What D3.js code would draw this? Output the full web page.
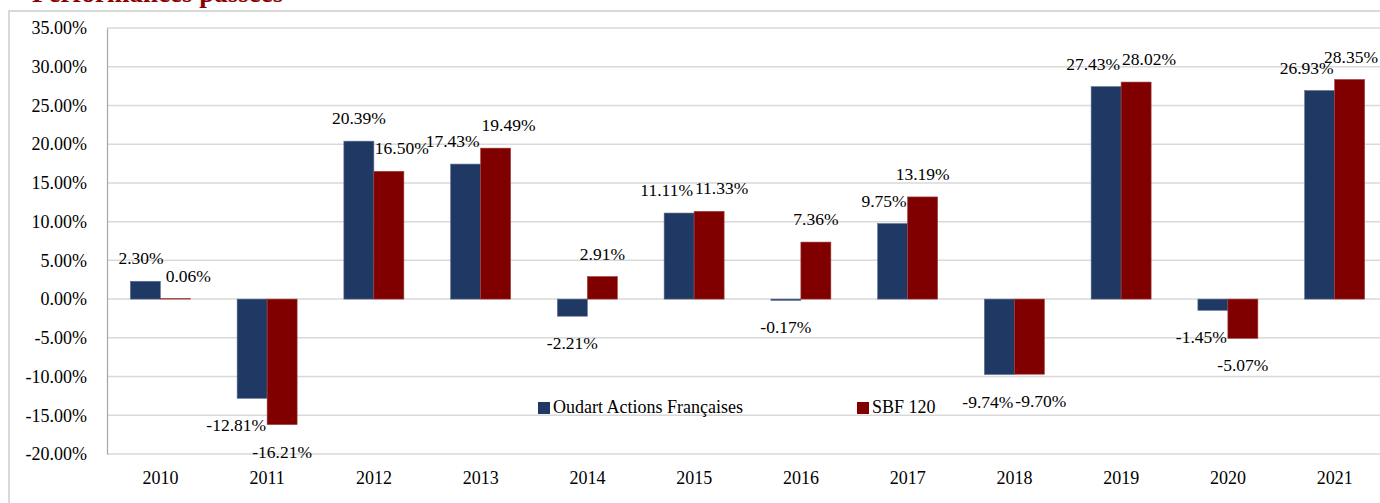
<!DOCTYPE html>
<html>
<head>
<meta charset="utf-8">
<script src="https://cdn.jsdelivr.net/npm/d3@7"></script>
<style>
  body { margin: 0; background: #fff; }
  svg { display: block; font-family: "Liberation Serif", "Times New Roman", serif; }
</style>
</head>
<body>
<div id="chart"></div>
<script>
// data
const years = ["2010", "2011", "2012", "2013", "2014", "2015", "2016", "2017", "2018", "2019", "2020", "2021"];
const oudart = [2.30, -12.81, 20.39, 17.43, -2.21, 11.11, -0.17, 9.75, -9.74, 27.43, -1.45, 26.93];
const sbf120 = [0.06, -16.21, 16.50, 19.49, 2.91, 11.33, 7.36, 13.19, -9.70, 28.02, -5.07, 28.35];
const seriesNames = ["Oudart Actions Françaises", "SBF 120"];
const yTicks = [35, 30, 25, 20, 15, 10, 5, 0, -5, -10, -15, -20];

const colors = ["#203864", "#800000"];
const W = 1380, H = 503;

const svg = d3.select("#chart").append("svg")
    .attr("width", W)
    .attr("height", H);

// title (cut off at the top of the picture)
svg.append("text")
    .attr("x", 32)
    .attr("y", 1.5)
    .attr("fill", "#8b0000")
    .attr("font-weight", "bold")
    .attr("font-size", 27)
    .text("Performances passées");

// outer frame
svg.append("path")
    .attr("d", "M9,503 V11 H1380")
    .attr("fill", "none")
    .attr("stroke", "#d9d9d9")
    .attr("stroke-width", 2);

const x0 = d3.scaleBand()
    .domain(years)
    .range([107, 1388])
    .paddingInner(0.438)
    .paddingOuter(0.219);

const x1 = d3.scaleBand()
    .domain([0, 1])
    .range([0, x0.bandwidth()]);

const y = d3.scaleLinear()
    .domain([-20, 35])
    .range([454, 28]);

// gridlines
svg.append("g")
    .selectAll("line")
    .data(yTicks)
    .join("line")
    .attr("x1", 107)
    .attr("x2", W)
    .attr("y1", d => y(d))
    .attr("y2", d => y(d))
    .attr("stroke", "#d9d9d9")
    .attr("stroke-width", 1.5);

// y axis
const yAxis = d3.axisLeft(y)
    .tickValues(yTicks)
    .tickSize(0)
    .tickPadding(20)
    .tickFormat(d => d.toFixed(2) + "%");

svg.append("g")
    .attr("transform", "translate(107,0)")
    .call(yAxis)
    .call(g => g.select(".domain").attr("stroke", "#a6a6a6").attr("stroke-width", 1.2))
    .call(g => g.selectAll("text")
        .attr("font-family", "Liberation Serif, serif")
        .attr("font-size", 18)
        .attr("fill", "#000"));

// x axis labels
const xAxis = d3.axisBottom(x0).tickSize(0).tickPadding(0);
svg.append("g")
    .attr("transform", "translate(0,471)")
    .call(xAxis)
    .call(g => g.select(".domain").remove())
    .call(g => g.selectAll("text")
        .attr("font-family", "Liberation Serif, serif")
        .attr("font-size", 18)
        .attr("fill", "#000"));

const rows = years.map((yr, i) => ({ year: yr, vals: [oudart[i], sbf120[i]] }));

const groups = svg.append("g")
    .selectAll("g")
    .data(rows)
    .join("g")
    .attr("transform", d => "translate(" + x0(d.year) + ",0)");

groups.selectAll("rect")
    .data(d => d.vals.map((v, k) => ({ v, k })))
    .join("rect")
    .attr("x", d => x1(d.k))
    .attr("width", x1.bandwidth())
    .attr("y", d => y(Math.max(0, d.v)))
    .attr("height", d => Math.abs(y(d.v) - y(0)))
    .attr("fill", d => colors[d.k])
    .attr("stroke", d => d.k === 0 ? "#5b6f95" : "#a04040")
    .attr("stroke-width", 0.6);

// data labels, nudged sideways like Excel does when they collide
groups.each(function (row) {
    const gx = x0(row.year);
    const labels = d3.select(this).selectAll("text.lbl")
        .data(row.vals.map((v, k) => ({ v, k })))
        .join("text")
        .attr("class", "lbl")
        .attr("x", d => x1(d.k) + x1.bandwidth() / 2)
        .attr("y", d => d.v >= 0 ? y(d.v) - 17 : y(d.v) + 33)
        .attr("text-anchor", "middle")
        .attr("font-size", 17.5)
        .attr("fill", "#000")
        .text(d => d.v.toFixed(2) + "%");

    const nodes = labels.nodes();
    const cx = [0, 1].map(k => x1(k) + x1.bandwidth() / 2);
    const bb = nodes.map(n => n.getBBox());

    // keep each label clear of the neighbouring bar
    [0, 1].forEach(k => {
        const o = 1 - k, v = row.vals[o];
        const top = y(Math.max(0, v)), bottom = y(Math.min(0, v));
        const b = bb[k];
        const vOver = Math.min(b.y + b.height - 3, bottom) - Math.max(b.y + 3, top);
        if (vOver > 0) {
            if (k === 1) {
                const over = x1(1) - b.x;
                if (over > 0) cx[1] += over + 1;
            } else {
                const over = (b.x + b.width) - x1(1);
                if (over > 0) cx[0] -= over + 1;
            }
        }
    });

    // then keep the two labels apart
    const w0 = bb[0].width, w1 = bb[1].width;
    const overlapX = (cx[0] + w0 / 2) - (cx[1] - w1 / 2);
    const overlapY = Math.min(bb[0].y + bb[0].height, bb[1].y + bb[1].height) - Math.max(bb[0].y, bb[1].y);
    if (overlapX > 0 && overlapY > 0) {
        cx[0] -= overlapX / 2 + 1;
        cx[1] += overlapX / 2 + 1;
    }

    // stay inside the picture
    cx[1] = Math.min(cx[1], W - gx - w1 / 2 - 2);

    d3.select(nodes[0]).attr("x", cx[0]);
    d3.select(nodes[1]).attr("x", cx[1]);
});

// legend
const legend = svg.append("g");
const legendX = [538, 857];
seriesNames.forEach((name, k) => {
    legend.append("rect")
        .attr("x", legendX[k])
        .attr("y", 402)
        .attr("width", 12)
        .attr("height", 12)
        .attr("fill", colors[k]);
    legend.append("text")
        .attr("x", legendX[k] + 15)
        .attr("y", 413)
        .attr("font-size", 18)
        .attr("fill", "#000")
        .text(name);
});
</script>
</body>
</html>
